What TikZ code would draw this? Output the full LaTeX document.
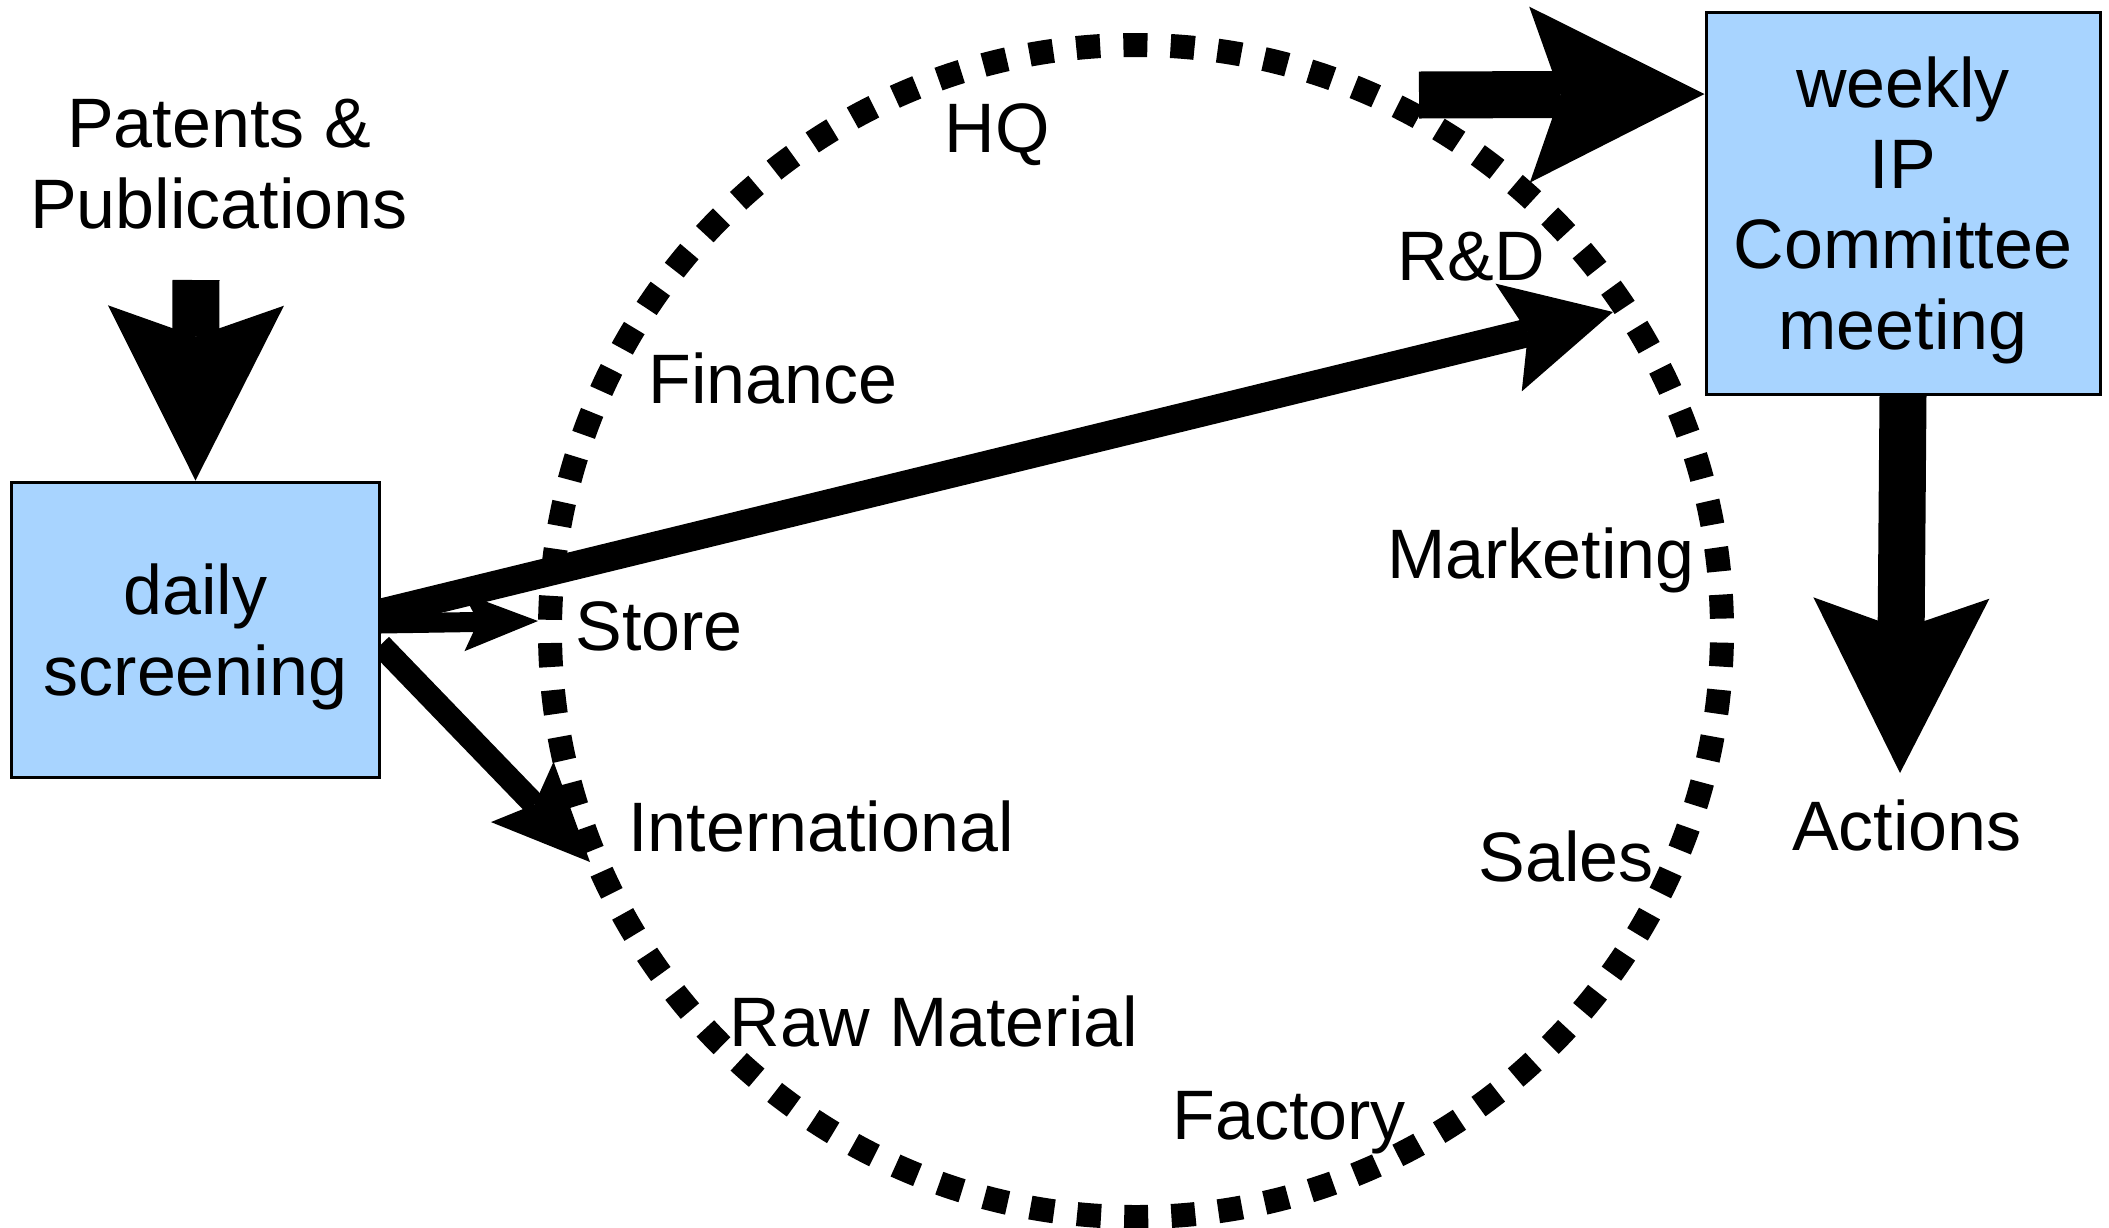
\documentclass[tikz,border=0pt]{standalone}
\usepackage{fontspec}
\setmainfont{Liberation Sans}
\usetikzlibrary{arrows.meta,backgrounds}
\definecolor{boxblue}{RGB}{168,212,255}

\begin{document}
\begin{tikzpicture}[x=0.4pt, y=-0.4pt]
      \tikzstyle{every node}=[font=\fontsize{28}{32.2}\selectfont]
      \tikzstyle{stage}=[rectangle, draw=black, line width=1.2pt, fill=boxblue, align=center, text depth=0pt]
      \tikzstyle{dept}=[inner sep=0pt, anchor=base]
      \tikzstyle{ring}=[line width=9.6pt, dash pattern=on 9.6pt off 9.28pt, dash phase=14.24pt]
      \tikzstyle{bigarrow}=[line width=18.8pt, -{Stealth[length=70pt, width=70.4pt, inset=12.4pt, line width=0pt]}]
      \tikzstyle{longarrow}=[line width=11.4pt, -{Stealth[length=43pt, width=44.4pt, inset=8pt, line width=0pt]}]
      \tikzstyle{midarrow}=[line width=9.4pt, -{Stealth[length=39pt, width=34.8pt, inset=7pt, line width=0pt]}]
      \tikzstyle{smallarrow}=[line width=8pt, -{Stealth[length=29.6pt, width=23.2pt, inset=5.6pt, line width=0pt]}]

      \useasboundingbox (0,0) rectangle (2109,1228);

      % the two meetings
      \node[stage, minimum width=146.8pt, minimum height=118pt] (daily) at (195.5,629.5) {daily\\screening};
      \node[stage, minimum width=157.6pt, minimum height=152.8pt] (weekly) at (1903,203) {weekly\\IP\\Committee\\meeting};

      % input and output
      \node[align=center, inner sep=0pt] (pubs) at (219,164) {Patents \&\\Publications};
      \node[dept] (actions) at (1907,850) {Actions};

      % departments round the ring
      \node[dept] (hq) at (997,152) {HQ};
      \node[dept] (rd) at (1471,280) {R\&D};
      \node[dept] (fin) at (773,403) {Finance};
      \node[dept] (mkt) at (1541,578) {Marketing};
      \node[dept] (store) at (659,650) {Store};
      \node[dept] (intl) at (821,851) {International};
      \node[dept] (sales) at (1566,881) {Sales};
      \node[dept] (raw) at (934,1046) {Raw Material};
      \node[dept] (fac) at (1289,1139) {Factory};

      % loose arrow ends
      \coordinate (pubsfoot) at (196,280);
      \coordinate (hqtail) at (1419,95);
      \coordinate (rdtip) at (1613,312);
      \coordinate (storetip) at (538,621);
      \coordinate (intltip) at (590,862);
      \coordinate (acttip) at (1900,773);

      \begin{pgfonlayer}{background}
        \draw[ring] (1136,631) circle (586);

        \draw[bigarrow] (pubsfoot) -- (daily.north);
        \draw[bigarrow] (hqtail) -- ([yshift=43.6pt]weekly.west);
        \draw[bigarrow] (weekly.south) -- (acttip);

        \draw[longarrow] ([yshift=6.6pt]daily.east) -- (rdtip);
        \draw[smallarrow] ([yshift=2.4pt]daily.east) -- (storetip);
        \draw[midarrow] ([yshift=-6.2pt]daily.east) -- (intltip);
      \end{pgfonlayer}

    \end{tikzpicture}
\end{document}
